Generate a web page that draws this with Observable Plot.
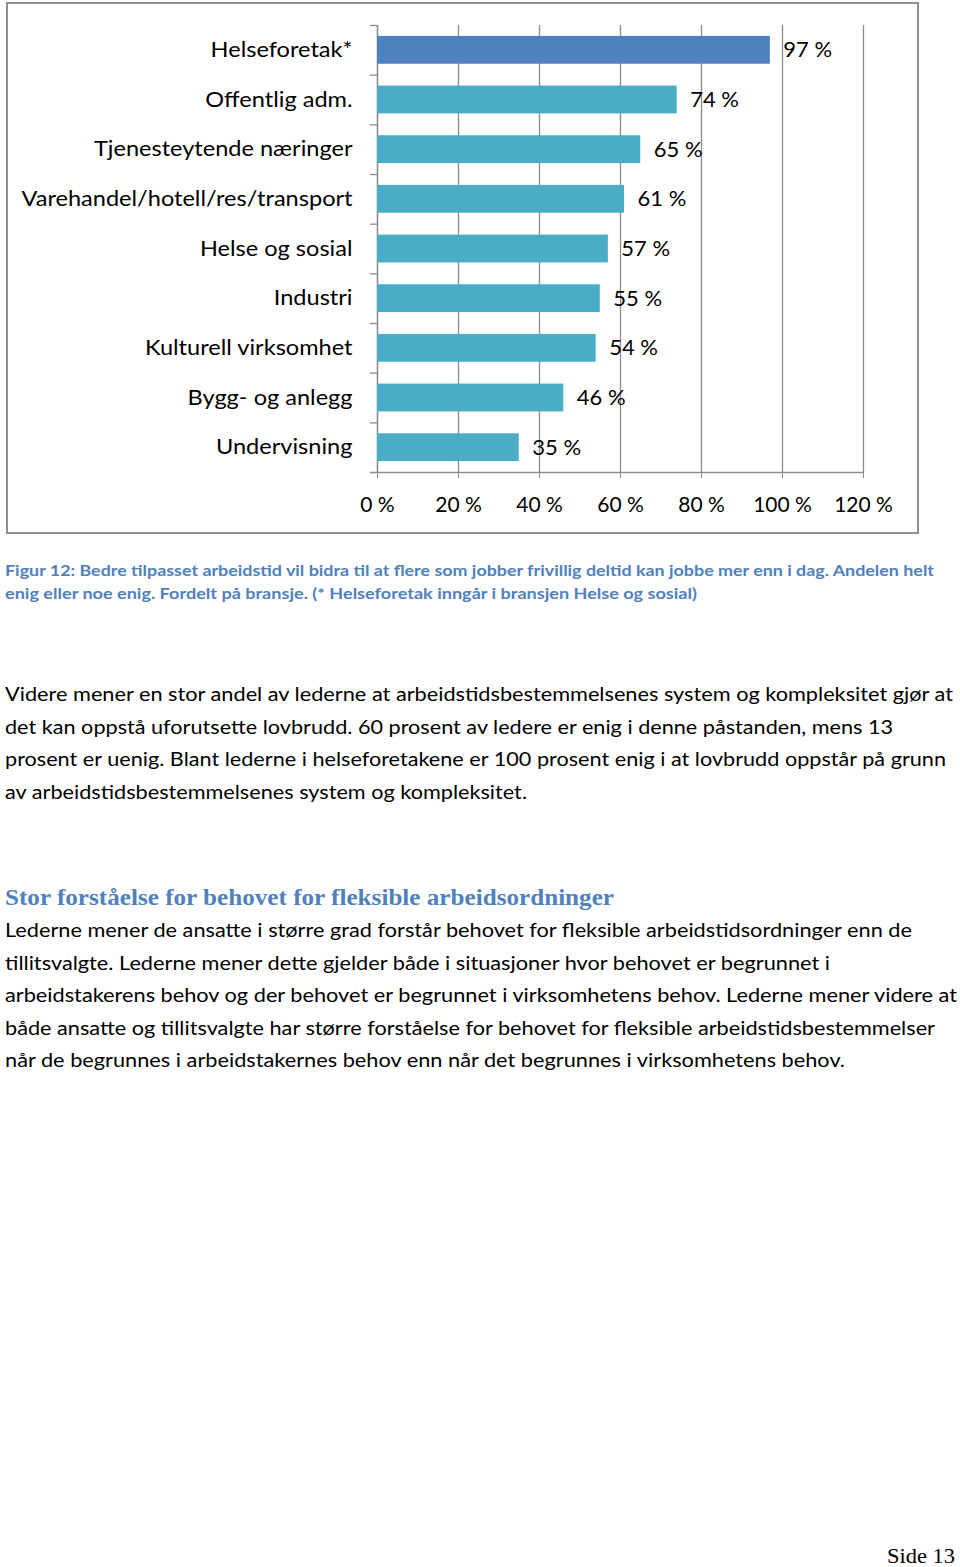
<!DOCTYPE html>
<html><head><meta charset="utf-8">
<script src="https://cdn.jsdelivr.net/npm/d3@7"></script>
<script src="https://cdn.jsdelivr.net/npm/@observablehq/plot@0.6"></script>
<style>
body{margin:0;background:#fff;}
#page{position:relative;width:960px;height:1567px;overflow:hidden;background:#fff;}
#chart{position:absolute;left:6px;top:2px;width:909px;height:528px;border:2px solid #8e8e8e;}
#chart svg{display:block;}
.ln{position:absolute;white-space:nowrap;transform-origin:0 50%;}
.cap{font-family:Lato,sans-serif;font-weight:bold;color:#4F81BD;font-size:14.5px;}
.body{font-family:Lato,sans-serif;font-size:19.5px;color:#000;}
.head{font-family:"Liberation Serif",serif;font-weight:bold;color:#4F81BD;font-size:23px;}
.side{font-family:"Liberation Serif",serif;font-size:21px;color:#000;}
</style></head>
<body><div id="page"><div id="chart"></div></div>
<script>
const categories = ["Helseforetak*","Offentlig adm.","Tjenesteytende næringer","Varehandel/hotell/res/transport","Helse og sosial","Industri","Kulturell virksomhet","Bygg- og anlegg","Undervisning"];
const values = [97,74,65,61,57,55,54,46,35];
const highlighted = ["Helseforetak*"];
const xTicks = [0,20,40,60,80,100,120];

const captionLines = ["Figur 12: Bedre tilpasset arbeidstid vil bidra til at flere som jobber frivillig deltid kan jobbe mer enn i dag. Andelen helt","enig eller noe enig. Fordelt på bransje.  (* Helseforetak inngår i bransjen Helse og sosial)"];
const para1Lines = ["Videre mener en stor andel av lederne at arbeidstidsbestemmelsenes system og kompleksitet gjør at","det kan oppstå uforutsette lovbrudd. 60 prosent av ledere er enig i denne påstanden, mens 13","prosent er uenig. Blant lederne i helseforetakene er 100 prosent enig i at lovbrudd oppstår på grunn","av arbeidstidsbestemmelsenes system og kompleksitet."];
const heading = "Stor forståelse for behovet for fleksible arbeidsordninger";
const para2Lines = ["Lederne mener de ansatte i større grad forstår behovet for fleksible arbeidstidsordninger enn de","tillitsvalgte. Lederne mener dette gjelder både i situasjoner hvor behovet er begrunnet i","arbeidstakerens behov og der behovet er begrunnet i virksomhetens behov. Lederne mener videre at","både ansatte og tillitsvalgte har større forståelse for behovet for fleksible arbeidstidsbestemmelser","når de begrunnes i arbeidstakernes behov enn når det begrunnes i virksomhetens behov."];
const pageLabel = "Side 13";

const rows = categories.map((c,i)=>({category:c, value:values[i], hi: highlighted.includes(c)}));

const W = 909, H = 528, mT = 21, mB = 60, mL = 369, mR = 54;
const step = (H - mT - mB) / categories.length;
const gray = "#8c8c8c";

const chart = Plot.plot({
  width: W, height: H,
  marginLeft: mL, marginRight: mR, marginTop: mT, marginBottom: mB,
  style: {fontFamily: "Lato, sans-serif", fontSize: "20px", color: "#000", background: "#fff"},
  x: {domain: [0,120], label: null},
  y: {domain: categories, paddingInner: 0.44, paddingOuter: 0.22, round: false, label: null},
  color: {domain: [true,false], range: ["#4F81BD","#4BACC6"]},
  marks: [
    Plot.gridX(xTicks, {stroke: gray, strokeOpacity: 1, strokeWidth: 1.3}),
    Plot.ruleX([0], {stroke: gray, strokeWidth: 1.3}),
    Plot.ruleY(categories, {y: d=>d, x1: -1.75, x2: 0, dy: -step/2, stroke: gray, strokeWidth: 1.3}),
    Plot.ruleY(categories.slice(-1), {y: d=>d, x1: -1.75, x2: 120, dy: step/2, stroke: gray, strokeWidth: 1.3}),
    Plot.barX(rows, {x: "value", y: "category", fill: "hi"}),
    Plot.text(rows, {x: "value", y: "category", text: d => `${d.value} %`, textAnchor: "start", dx: 13, fontSize: 22, fill: "#000"}),
    Plot.axisY({tickSize: 0, tickPadding: 25, fontSize: 21, fill: "#000"}),
    Plot.axisX({ticks: xTicks, tickFormat: d => `${d} %`, tickSize: 6, tickPadding: 19, stroke: gray, fontSize: 21, fill: "#000"})
  ]
});
document.getElementById("chart").appendChild(chart);

// widen category labels to match the reference face's proportions
const yTexts = chart.querySelectorAll('g[aria-label="y-axis tick label"] text');
let longest = 0;
yTexts.forEach(t => { longest = Math.max(longest, t.getComputedTextLength()); });
const k = 331 / longest;
yTexts.forEach(t => {
  const len = t.getComputedTextLength();
  t.setAttribute("textLength", (len * k).toFixed(1));
  t.setAttribute("lengthAdjust", "spacingAndGlyphs");
});

const page = document.getElementById("page");
function place(text, cls, cy, left, right, lh) {
  const d = document.createElement("div");
  d.className = "ln " + cls; d.textContent = text;
  d.style.lineHeight = lh + "px"; d.style.top = (cy - lh/2) + "px"; d.style.left = left + "px";
  page.appendChild(d);
  const w = d.getBoundingClientRect().width;
  d.style.transform = `scaleX(${(right - left) / w})`;
  return d;
}
const capRight = [934, 697], p1Right = [953, 893, 946, 527], p2Right = [912, 830, 957, 935, 845];
const capY = [571, 594], p1Y = [694, 727, 759, 792], p2Y = [930, 963, 995, 1028, 1060];
captionLines.forEach((t,i) => place(t, "cap", capY[i], 5, capRight[i], 22));
para1Lines.forEach((t,i) => place(t, "body", p1Y[i], 5, p1Right[i], 30));
place(heading, "head", 898, 5, 614, 30);
para2Lines.forEach((t,i) => place(t, "body", p2Y[i], 5, p2Right[i], 30));
place(pageLabel, "side", 1556, 887, 955, 20);
</script></body></html>
